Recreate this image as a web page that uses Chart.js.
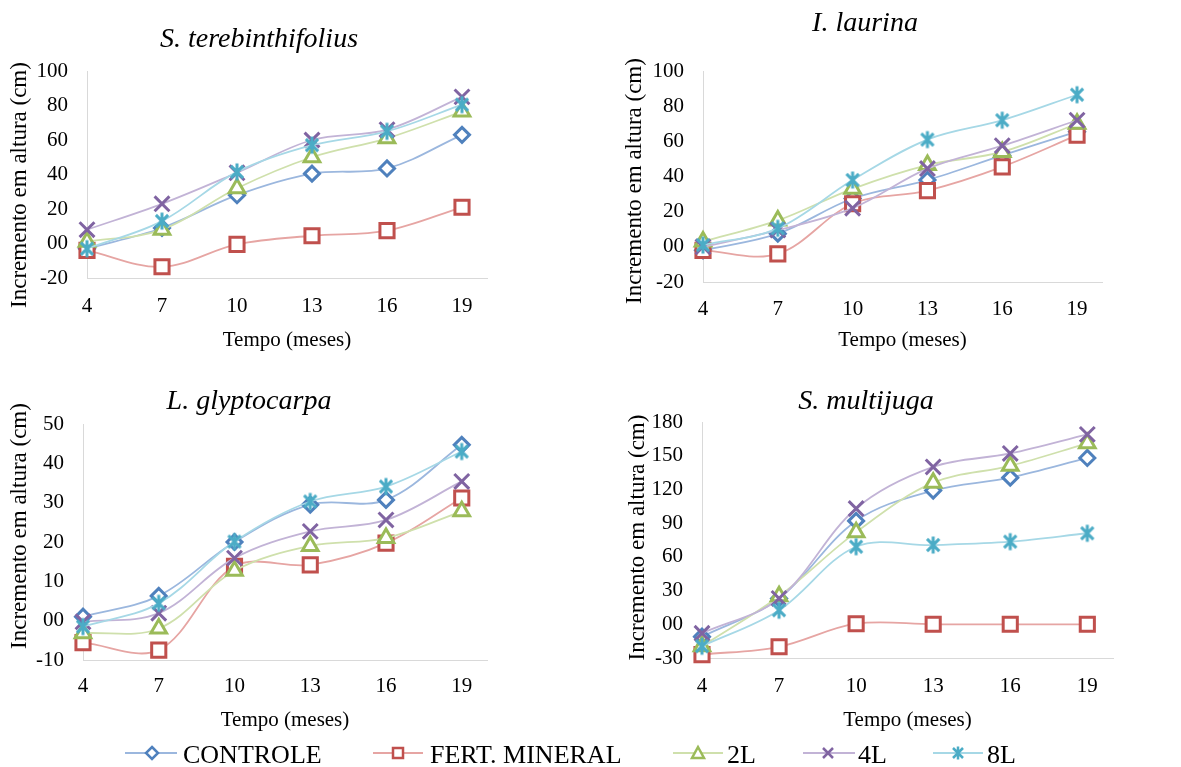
<!DOCTYPE html>
<html><head><meta charset="utf-8">
<script src="https://cdn.jsdelivr.net/npm/chart.js@4.4.1/dist/chart.umd.min.js"></script>
<style>
html,body{margin:0;padding:0;background:#fff;width:1181px;height:767px;overflow:hidden;}
.panel{position:absolute;}
canvas{display:block;}
#legend{position:absolute;left:0;top:728px;}
</style></head><body>
<div class="panel" style="left:0;top:0;"><canvas id="c1" width="590" height="360"></canvas></div>
<div class="panel" style="left:590px;top:0;"><canvas id="c2" width="591" height="360"></canvas></div>
<div class="panel" style="left:0;top:370px;"><canvas id="c3" width="590" height="370"></canvas></div>
<div class="panel" style="left:590px;top:370px;"><canvas id="c4" width="591" height="370"></canvas></div>
<svg id="legend" width="1181" height="39" xmlns="http://www.w3.org/2000/svg" font-family="Liberation Serif, Times New Roman, serif" font-size="26">
  <line x1="125" y1="25" x2="177" y2="25" stroke="#9BB7DE" stroke-width="1.8"/>
  <polygon points="152,19 158,25 152,31 146,25" fill="#fff" stroke="#4F81BD" stroke-width="2.5"/>
  <text x="183" y="35">CONTROLE</text>
  <line x1="373" y1="25" x2="423" y2="25" stroke="#E6A5A3" stroke-width="1.8"/>
  <rect x="393" y="20" width="10" height="10" fill="#fff" stroke="#C0504D" stroke-width="2.5"/>
  <text x="430" y="35">FERT. MINERAL</text>
  <line x1="673" y1="25" x2="723" y2="25" stroke="#CFE0AC" stroke-width="1.8"/>
  <polygon points="698,19 704,30 692,30" fill="#fff" stroke="#9BBB59" stroke-width="2.5"/>
  <text x="727" y="35">2L</text>
  <line x1="803" y1="25" x2="855" y2="25" stroke="#C2B3D6" stroke-width="1.8"/>
  <path d="M823,20 L833,30 M833,20 L823,30" stroke="#8064A2" stroke-width="2.5"/>
  <text x="858" y="35">4L</text>
  <line x1="933" y1="25" x2="983" y2="25" stroke="#A6D8E6" stroke-width="1.8"/>
  <path d="M953,20 L963,30 M963,20 L953,30 M958,18.5 L958,31.5" stroke="#4BACC6" stroke-width="2.5"/>
  <text x="987" y="35">8L</text>
</svg>
<script>
// ---- data ----
const months = [4, 7, 10, 13, 16, 19];
const seriesNames = ['CONTROLE', 'FERT. MINERAL', '2L', '4L', '8L'];

// S. terebinthifolius
const terebControle = [-3, 9, 28, 40.5, 43.5, 63];
const terebFert = [-4, -13.5, -0.5, 4.5, 7.5, 21];
const tereb2L = [1, 8, 32, 50, 61, 76.5];
const tereb4L = [8, 23, 41, 60, 66, 85];
const tereb8L = [-3, 13, 41.5, 57, 65, 80.5];
// I. laurina
const laurControle = [-2, 7.5, 27.5, 38, 52, 65.5];
const laurFert = [-2, -4, 24.5, 32, 45.5, 63.5];
const laur2L = [3, 15, 33, 46.5, 54, 70];
const laur4L = [0, 9.5, 22, 44.5, 57.5, 72];
const laur8L = [1, 10.5, 38, 61, 72, 86.5];
// L. glyptocarpa
const glypControle = [1, 6.3, 20, 29.5, 30.7, 44.7];
const glypFert = [-5.6, -7.5, 13.8, 14.2, 19.7, 31.2];
const glyp2L = [-3.2, -2, 12.7, 19, 21, 27.8];
const glyp4L = [-0.3, 1.9, 15.9, 22.7, 25.6, 35.4];
const glyp8L = [-1.5, 4.4, 20.1, 30.3, 34.1, 43];
// S. multijuga
const multControle = [-11, 23, 92, 119, 130.5, 148];
const multFert = [-27, -20, 0.5, 0, 0, 0];
const mult2L = [-19.5, 25, 82, 126, 141, 161];
const mult4L = [-8, 23, 103, 140, 152, 169];
const mult8L = [-19.5, 12.5, 69, 70.5, 73.5, 81];

// ---- styles ----
const FONT = '"Liberation Serif"';
const lineColors = ['#9BB7DE', '#E6A5A3', '#CFE0AC', '#C2B3D6', '#A6D8E6'];
const markerColors = ['#4F81BD', '#C0504D', '#9BBB59', '#8064A2', '#4BACC6'];

function makeAsterisk(color, size, lw) {
  const c = document.createElement('canvas');
  c.width = size; c.height = size;
  const g = c.getContext('2d');
  g.strokeStyle = color; g.lineWidth = lw;
  const m = size / 2, r = size / 2 - 1.5, d = r * 0.72;
  g.beginPath();
  g.moveTo(m - d, m - d); g.lineTo(m + d, m + d);
  g.moveTo(m + d, m - d); g.lineTo(m - d, m + d);
  g.moveTo(m, m - r); g.lineTo(m, m + r);
  g.stroke();
  return c;
}

const textPlugin = {
  id: 'panelText',
  afterDraw(chart, args, o) {
    const ctx = chart.ctx;
    ctx.save();
    ctx.fillStyle = '#000';
    ctx.textAlign = 'center';
    ctx.textBaseline = 'alphabetic';
    ctx.font = 'italic 28px ' + FONT;
    ctx.fillText(o.title, o.titleX, o.titleY);
    ctx.translate(o.yTitleX, o.yTitleY);
    ctx.rotate(-Math.PI / 2);
    ctx.font = '23px ' + FONT;
    ctx.textBaseline = 'middle';
    ctx.fillText('Incremento em altura (cm)', 0, 0);
    ctx.restore();
  }
};

function start() {
  const pointStyles = ['rectRot', 'rect', 'triangle', 'crossRot', makeAsterisk(markerColors[4], 20, 3)];
  const pointRadii = [7.5, 10, 9, 10.5, 10];

  function buildDatasets(values) {
    return values.map((vals, i) => ({
      label: seriesNames[i],
      data: months.map((m, j) => ({ x: m, y: vals[j] })),
      borderColor: lineColors[i],
      borderWidth: 1.8,
      tension: 0.35,
      pointStyle: pointStyles[i],
      pointRadius: pointRadii[i],
      pointBorderColor: markerColors[i],
      pointBackgroundColor: '#ffffff',
      pointBorderWidth: 3,
      order: 5 - i,
      clip: false
    }));
  }

  function makeChart(id, cfg) {
    new Chart(document.getElementById(id), {
      type: 'line',
      data: { datasets: buildDatasets(cfg.values) },
      options: {
        responsive: false,
        animation: false,
        events: [],
        layout: { padding: { left: 0, top: cfg.padTop, right: cfg.padRight, bottom: 0 } },
        plugins: {
          legend: { display: false },
          tooltip: { enabled: false },
          panelText: cfg.text
        },
        scales: {
          x: {
            type: 'linear', min: 4, max: 20,
            afterBuildTicks: s => { s.ticks = months.map(v => ({ value: v })); },
            afterFit: s => { s.height = cfg.xHeight; },
            grid: { display: false, drawTicks: false },
            border: { display: true, color: '#D9D9D9', width: 1 },
            ticks: { padding: cfg.xTickPad, color: '#000', font: { family: FONT, size: 21 }, autoSkip: false, maxRotation: 0 },
            title: { display: true, text: 'Tempo (meses)', color: '#000', font: { family: FONT, size: 21 }, padding: { top: 0, bottom: 7 } }
          },
          y: {
            min: cfg.yMin, max: cfg.yMax,
            afterFit: s => { s.width = cfg.yWidth; },
            grid: { display: false, drawTicks: false },
            border: { display: true, color: '#D9D9D9', width: 1 },
            ticks: {
              stepSize: cfg.yStep, padding: 19, color: '#000', font: { family: FONT, size: 21 },
              callback: v => (v === 0 ? '00' : String(v))
            }
          }
        }
      },
      plugins: [textPlugin]
    });
  }

  makeChart('c1', {
    values: [terebControle, terebFert, tereb2L, tereb4L, tereb8L],
    yMin: -20, yMax: 100, yStep: 20,
    padTop: 71, padRight: 103, yWidth: 87, xHeight: 82, xTickPad: 16,
    text: { title: 'S. terebinthifolius', titleX: 259, titleY: 47, yTitleX: 20, yTitleY: 185 }
  });
  makeChart('c2', {
    values: [laurControle, laurFert, laur2L, laur4L, laur8L],
    yMin: -20, yMax: 100, yStep: 20,
    padTop: 71, padRight: 79, yWidth: 113, xHeight: 78, xTickPad: 15,
    text: { title: 'I. laurina', titleX: 275, titleY: 31, yTitleX: 45, yTitleY: 181 }
  });
  makeChart('c3', {
    values: [glypControle, glypFert, glyp2L, glyp4L, glyp8L],
    yMin: -10, yMax: 50, yStep: 10,
    padTop: 54, padRight: 103, yWidth: 83, xHeight: 80, xTickPad: 14,
    text: { title: 'L. glyptocarpa', titleX: 249, titleY: 39, yTitleX: 20, yTitleY: 156 }
  });
  makeChart('c4', {
    values: [multControle, multFert, mult2L, mult4L, mult8L],
    yMin: -30, yMax: 180, yStep: 30,
    padTop: 52, padRight: 68, yWidth: 112, xHeight: 82, xTickPad: 16,
    text: { title: 'S. multijuga', titleX: 276, titleY: 39, yTitleX: 48, yTitleY: 167.5 }
  });
}

Promise.all([
  document.fonts.load('21px "Liberation Serif"'),
  document.fonts.load('italic 28px "Liberation Serif"')
]).then(start, start);
</script>
</body></html>
